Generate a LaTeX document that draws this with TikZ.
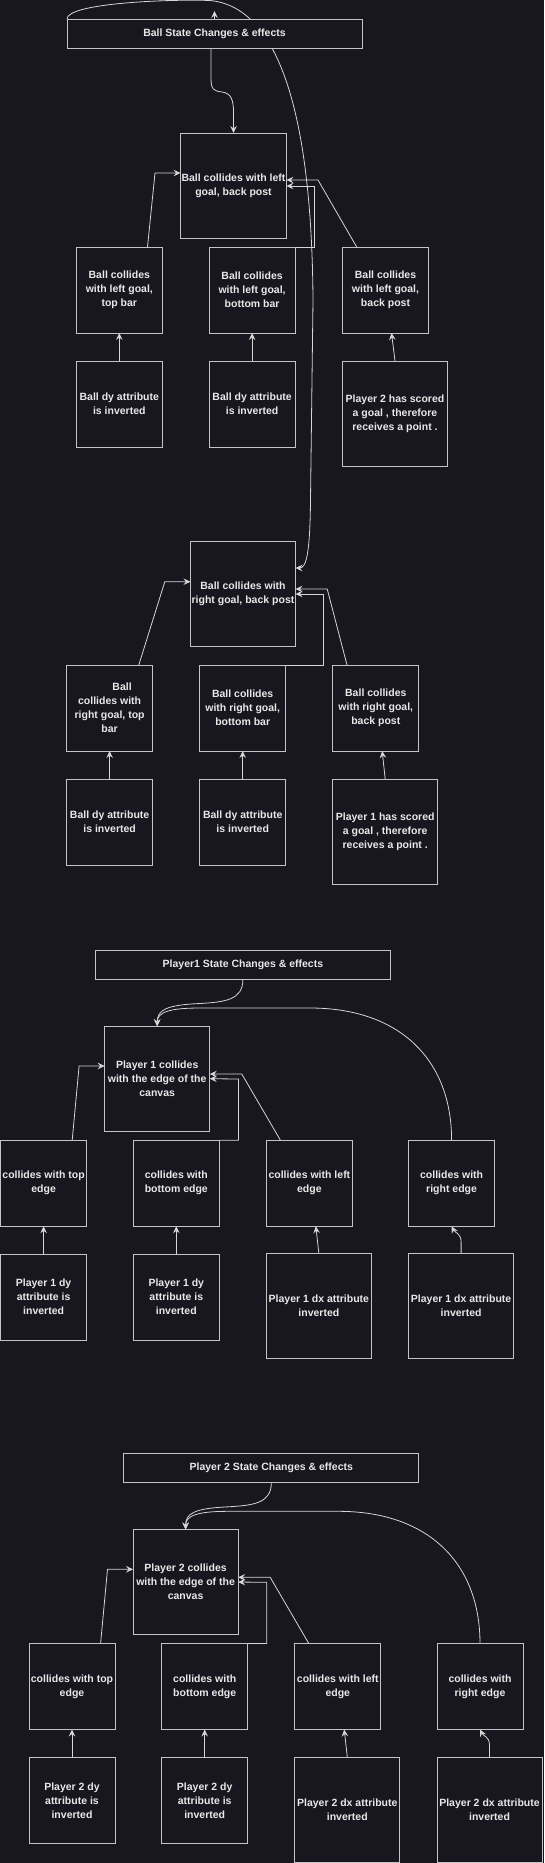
\documentclass[tikz,border=0pt]{standalone}
\usepackage{fontspec}
\setmainfont{Liberation Sans}
\usetikzlibrary{arrows.meta}
\definecolor{bgc}{HTML}{18161E}
\definecolor{boxc}{HTML}{C4C4C4}
\definecolor{linec}{HTML}{D6D6D6}
\definecolor{txtc}{HTML}{E8E8E8}
\pgfdeclarelayer{back}
\pgfdeclarelayer{edges}
\pgfsetlayers{back,edges,main}
\tikzset{
  box/.style={draw=boxc, fill=bgc, line width=0.9pt, inner sep=1pt, outer sep=0pt,
    text=txtc, align=center, font=\fontsize{10.5}{14}\selectfont\bfseries},
  sq/.style={box, minimum width=86pt, minimum height=86pt},
  big/.style={box, minimum width=105pt, minimum height=105pt},
  ttl/.style={box, minimum width=295pt, minimum height=29pt},
  arr/.style={draw=linec, line width=0.8pt, -{Stealth[length=7pt,width=6.5pt,inset=2.5pt]}},
}
\newcommand{\pblock}[5]{%
\begin{scope}[shift={(#2,#3)}]
\node[ttl] (#1title) at (242.9,964.8) {#5};
\node[big] (#1main) at (157.2,1078.7) {Player #4 collides\\with the edge of the\\canvas};
\node[sq] (#1a) at (43.6,1183.2) {collides with top\\edge};
\node[sq] (#1b) at (176.3,1183.2) {collides with\\bottom edge};
\node[sq] (#1c) at (309.4,1183.2) {collides with left\\edge};
\node[sq] (#1d) at (451.6,1183.2) {collides with\\right edge};
\node[sq] (#1e) at (43.6,1297) {Player #4 dy\\attribute is\\inverted};
\node[sq] (#1f) at (176.3,1297) {Player #4 dy\\attribute is\\inverted};
\node[big] (#1g) at (318.9,1306.2) {Player #4 dx attribute\\inverted};
\node[big] (#1h) at (461.1,1306.2) {Player #4 dx attribute\\inverted};
\begin{pgfonlayer}{edges}
\draw[arr] (#1title.south) .. controls (243,1000) and (225,1002) .. (200,1003.5) .. controls (166,1005) and (157.2,1010) .. (#1main.north);
\draw[arr] (#1d.north) .. controls (451.6,1060) and (400,1008) .. (310,1008) -- (200,1008) .. controls (170,1008) and (157.2,1012) .. (#1main.north);
\draw[arr] ([xshift=28.6pt]#1a.north) -- (79.1,1066) -- ([yshift=12.7pt]#1main.west);
\draw[arr] (#1b.north east) -| (238.4,1079) -- (#1main.east);
\draw[arr] ([xshift=-29pt]#1c.north) -- (241.8,1074) -- ([yshift=4.7pt]#1main.east);
\draw[arr] (#1e.north) -- (#1a.south);
\draw[arr] (#1f.north) -- (#1b.south);
\draw[arr] (#1g.north) -- ([xshift=6.4pt]#1c.south);
\draw[arr] (#1h.north) -- (461.1,1242) .. controls (461.1,1233) and (455,1233) .. (#1d.south);
\end{pgfonlayer}
\end{scope}}
\begin{document}
\begin{tikzpicture}[x=1pt,y=-1pt]
\useasboundingbox (0,0) rectangle (544,1863);
\begin{pgfonlayer}{back}
\fill[bgc] (0,0) rectangle (544,1863);
\end{pgfonlayer}
% Ball, left goal
\node[ttl] (btitle) at (214.5,33.5) {Ball State Changes \& effects};
\node[big] (bmainL) at (233.5,185.5) {Ball collides with left\\goal, back post};
\node[sq] (bL1) at (119.3,290) {Ball collides\\with left goal,\\top bar};
\node[sq] (bL2) at (252.1,290) {Ball collides\\with left goal,\\bottom bar};
\node[sq] (bL3) at (385.5,290) {Ball collides\\with left goal,\\back post};
\node[sq] (bdy1) at (119.3,404) {Ball dy attribute\\is inverted};
\node[sq] (bdy2) at (252.1,404) {Ball dy attribute\\is inverted};
\node[big] (bpts2) at (395,413.5) {Player 2 has scored\\a goal , therefore\\receives a point .};
% Ball, right goal
\node[big] (bmainR) at (243,594) {Ball collides with\\right goal, back post};
\node[sq] (bR1) at (109.6,708) {\hspace*{25pt}Ball\\collides with\\right goal, top\\bar};
\node[sq] (bR2) at (242.7,708) {Ball collides\\with right goal,\\bottom bar};
\node[sq] (bR3) at (375.8,708) {Ball collides\\with right goal,\\back post};
\node[sq] (bdy3) at (109.6,822) {Ball dy attribute\\is inverted};
\node[sq] (bdy4) at (242.7,822) {Ball dy attribute\\is inverted};
\node[big] (bpts1) at (385.2,831.5) {Player 1 has scored\\a goal , therefore\\receives a point .};
\coordinate (btop) at (214.5,11);
\begin{pgfonlayer}{edges}
\draw[arr] ([xshift=-3.5pt]btitle.south) -- (211,78) .. controls (211,90) and (214,91) .. (222,92) .. controls (231,93) and (233.5,100) .. (233.5,112) -- (bmainL.north);
\draw[arr] ([xshift=28.2pt]bL1.north) -- (155,173) -- ([yshift=12.5pt]bmainL.west);
\draw[arr] (bL2.north east) -| (314,186) -- ([yshift=-0.5pt]bmainL.east);
\draw[arr] ([xshift=-28.8pt]bL3.north) -- (318,180) -- ([yshift=5.5pt]bmainL.east);
\draw[arr] (bdy1.north) -- (bL1.south);
\draw[arr] (bdy2.north) -- (bL2.south);
\draw[arr] (bpts2.north) -- ([xshift=6pt]bL3.south);
\draw[arr] (btitle.north west) .. controls (67,3) and (170,-1) .. (210,0.5) .. controls (290,8) and (312,150) .. (313,300) -- (310.5,500) .. controls (310,555) and (306,568) .. ([yshift=26pt]bmainR.east);
\draw[arr] (btitle.north) -- (btop);
\draw[arr] ([xshift=29.2pt]bR1.north) -- (164.8,581.7) -- ([yshift=12.3pt]bmainR.west);
\draw[arr] (bR2.north east) -| (323.4,594) -- (bmainR.east);
\draw[arr] ([xshift=-28.8pt]bR3.north) -- (327.2,589) -- ([yshift=5pt]bmainR.east);
\draw[arr] (bdy3.north) -- (bR1.south);
\draw[arr] (bdy4.north) -- (bR2.south);
\draw[arr] (bpts1.north) -- ([xshift=6.4pt]bR3.south);
\end{pgfonlayer}
% Players
\pblock{pa}{0}{0}{1}{Player1 State Changes \& effects}
\pblock{pb}{28.4}{503.3}{2}{Player 2 State Changes \& effects}
\end{tikzpicture}
\end{document}
